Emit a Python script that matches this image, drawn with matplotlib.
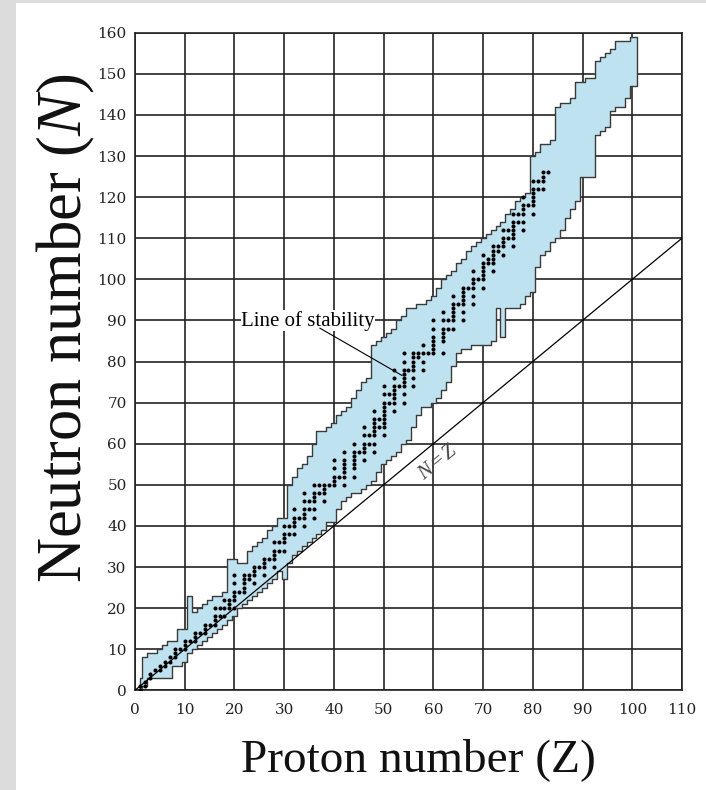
import matplotlib
matplotlib.use("Agg")
import matplotlib.pyplot as plt
from matplotlib.patches import Rectangle
import numpy as np

plt.rcParams["mathtext.fontset"] = "custom"
plt.rcParams["mathtext.rm"] = "Liberation Serif"
plt.rcParams["mathtext.it"] = "Liberation Serif:italic"

# band of known nuclides: one column per proton number Z
band_z = list(range(1, 102))
band_upper = [
    3, 8, 9, 9, 10, 11, 12, 12, 15, 15,
    23, 19, 20, 21, 22, 23, 23, 24, 32, 32,
    31, 31, 34, 35, 36, 37, 39, 40, 42, 42,
    50, 52, 54, 55, 57, 60, 63, 63, 64, 65,
    67, 68, 69, 71, 73, 75, 76, 84, 85, 86,
    87, 88, 90, 91, 93, 93, 94, 94, 95, 96,
    98, 100, 101, 102, 104, 105, 107, 108, 109, 110,
    111, 112, 113, 114, 116, 117, 119, 120, 121, 130,
    131, 133, 133, 134, 142, 143, 143, 144, 148, 148,
    149, 149, 153, 154, 155, 156, 158, 158, 158, 159,
    159,
]
band_lower = [
    0, 1, 3, 3, 3, 3, 3, 6, 6, 7,
    9, 10, 11, 12, 13, 14, 15, 16, 17, 18,
    20, 21, 22, 23, 24, 25, 26, 27, 29, 27,
    31, 33, 34, 35, 36, 37, 38, 39, 41, 41,
    44, 46, 47, 48, 48, 49, 50, 51, 53, 55,
    56, 57, 58, 60, 61, 64, 67, 69, 69, 70,
    71, 73, 75, 79, 82, 83, 83, 84, 84, 84,
    84, 85, 93, 86, 93, 93, 93, 94, 96, 97,
    103, 106, 107, 109, 110, 112, 115, 117, 119, 125,
    125, 125, 135, 136, 137, 141, 142, 142, 144, 147,
    147,
]

# stable nuclides: neutron numbers for each Z
stable_n = {
    1: [0, 1], 2: [1, 2], 3: [3, 4], 4: [5], 5: [5, 6], 6: [6, 7],
    7: [7, 8], 8: [8, 9, 10], 9: [10], 10: [10, 11, 12], 11: [12],
    12: [12, 13, 14], 13: [14], 14: [14, 15, 16], 15: [16],
    16: [16, 17, 18, 20], 17: [18, 20], 18: [18, 20, 22], 19: [20, 21, 22],
    20: [20, 22, 23, 24, 26, 28], 21: [24], 22: [24, 25, 26, 27, 28],
    23: [27, 28], 24: [26, 28, 29, 30], 25: [30], 26: [28, 30, 31, 32],
    27: [32], 28: [30, 32, 33, 34, 36], 29: [34, 36], 30: [34, 36, 37, 38, 40],
    31: [38, 40], 32: [38, 40, 41, 42, 44], 33: [42],
    34: [40, 42, 43, 44, 46, 48], 35: [44, 46], 36: [42, 44, 46, 47, 48, 50],
    37: [48, 50], 38: [46, 48, 49, 50], 39: [50], 40: [50, 51, 52, 54, 56],
    41: [52], 42: [50, 52, 53, 54, 55, 56, 58],
    44: [52, 54, 55, 56, 57, 58, 60], 45: [58], 46: [56, 58, 59, 60, 62, 64],
    47: [60, 62], 48: [58, 60, 62, 63, 64, 65, 66, 68], 49: [64, 66],
    50: [62, 64, 65, 66, 67, 68, 69, 70, 72, 74], 51: [70, 72],
    52: [68, 70, 71, 72, 73, 74, 76, 78], 53: [74],
    54: [70, 72, 74, 75, 76, 77, 78, 80, 82], 55: [78],
    56: [74, 76, 78, 79, 80, 81, 82], 57: [81, 82], 58: [78, 80, 82, 84],
    59: [82], 60: [82, 83, 84, 85, 86, 88, 90],
    62: [82, 85, 86, 87, 88, 90, 92], 63: [88, 90],
    64: [88, 90, 91, 92, 93, 94, 96], 65: [94],
    66: [90, 92, 94, 95, 96, 97, 98], 67: [98], 68: [94, 96, 98, 99, 100, 102],
    69: [100], 70: [98, 100, 101, 102, 103, 104, 106], 71: [104, 105],
    72: [102, 104, 105, 106, 107, 108], 73: [107, 108],
    74: [106, 108, 109, 110, 112], 75: [110, 112],
    76: [108, 110, 111, 112, 113, 114, 116], 77: [114, 116],
    78: [112, 114, 116, 117, 118, 120], 79: [118],
    80: [116, 118, 119, 120, 121, 122, 124], 81: [122, 124],
    82: [122, 124, 125, 126], 83: [126],
}

nz_line = [0, 110]
x_ticks = list(range(0, 111, 10))
y_ticks = list(range(0, 161, 10))

stab_label = "Line of stability"
stab_text_pos = (34.8, 89.9)
stab_line_z = [37.2, 53.7]
stab_line_n = [88.1, 76.6]
nz_label = "$N = Z$"
nz_text_pos = (60.9, 55.7)

fig = plt.figure(figsize=(7.06, 7.90), dpi=100, facecolor="#dcdcdc")
fig.patches.append(Rectangle((16 / 706, 0), 1, 1 - 3 / 790, transform=fig.transFigure,
                             facecolor="white", edgecolor="none", zorder=-10))
ax = fig.add_axes([0.1912, 0.1262, 0.7748, 0.8324])

ax.fill_between(band_z, band_lower, band_upper, step="mid",
                facecolor="#bfe2f0", edgecolor="#3a3a3a", linewidth=1.0, zorder=2)
ax.plot(nz_line, nz_line, color="black", linewidth=0.9, zorder=3)

zs = [z for z, ns in stable_n.items() for _ in ns]
ns = [n for ns_ in stable_n.values() for n in ns_]
ax.scatter(zs, ns, s=8.5, color="black", linewidths=0, zorder=4)

ax.text(*stab_text_pos, stab_label, fontsize=15, family="Liberation Serif",
        ha="center", va="center", zorder=5,
        bbox=dict(facecolor="white", edgecolor="none", pad=0.5))
ax.plot(stab_line_z, stab_line_n, color="black", linewidth=0.8, zorder=5)
ax.text(*nz_text_pos, nz_label, fontsize=15, color="#444444", rotation=39.6,
        rotation_mode="anchor", ha="center", va="center", zorder=5)

ax.set_xlim(0, 110)
ax.set_ylim(0, 160)
ax.set_xticks(x_ticks)
ax.set_yticks(y_ticks)
ax.grid(True, color="#222222", linewidth=1.2, zorder=0.5)
ax.set_axisbelow(True)
ax.tick_params(length=0, labelsize=11, labelcolor="#222222")
ax.tick_params(axis="x", pad=9)
ax.tick_params(axis="y", pad=6)
for lab in ax.get_xticklabels() + ax.get_yticklabels():
    lab.set_family("DejaVu Serif")
for sp in ax.spines.values():
    sp.set_color("#222222")
    sp.set_linewidth(1.2)

fig.text(0.593, 0.038, "Proton number (Z)", fontsize=34, family="Liberation Serif",
         ha="center", va="center", color="#111111")
fig.text(0.094, 0.585, "Neutron number ($N$)", fontsize=45, family="Liberation Serif",
         rotation=90, ha="center", va="center", color="#111111")

fig.savefig("out.png", dpi=100, facecolor=fig.get_facecolor())
